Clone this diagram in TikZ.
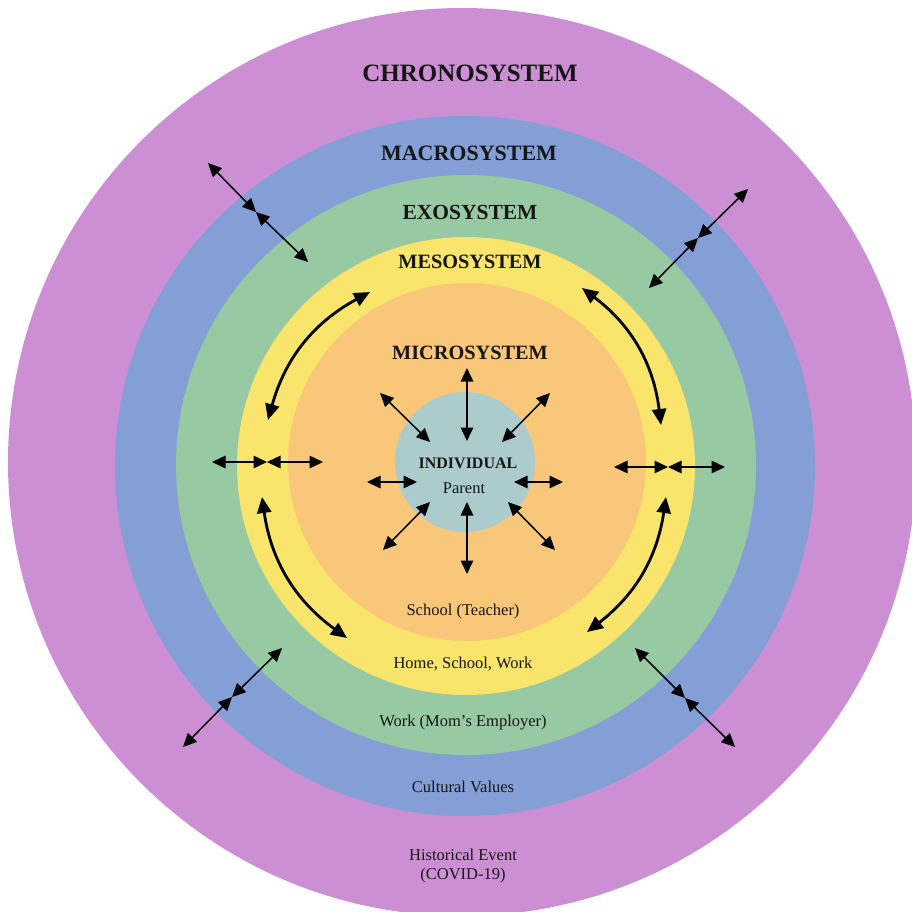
\documentclass[tikz,border=0pt]{standalone}
\usepackage{fontspec}
\setmainfont{Liberation Serif}
\usetikzlibrary{arrows.meta}
\definecolor{chronoC}{RGB}{204,143,212}
\definecolor{macroC}{RGB}{131,159,214}
\definecolor{exoC}{RGB}{151,201,162}
\definecolor{mesoC}{RGB}{249,228,108}
\definecolor{microC}{RGB}{249,199,122}
\definecolor{indC}{RGB}{171,203,205}
\definecolor{txt}{RGB}{22,22,22}
\begin{document}
\begin{tikzpicture}[x=1pt,y=1pt,
  ring/.style={circle, inner sep=0pt, draw=none},
  title/.style={font=\bfseries\fontsize{#1}{#1}\selectfont, text=txt, inner sep=0pt},
  lbl/.style={font=\fontsize{16.5}{19}\selectfont, text=txt, align=center, inner sep=0pt},
  spoke/.style={line width=1.5pt, {Triangle[length=13.5pt,width=12.5pt]}-{Triangle[length=13.5pt,width=12.5pt]}},
  link/.style={line width=1.5pt, {Triangle[length=13.5pt,width=12.5pt]}-{Triangle[length=13.5pt,width=12.5pt]}},
  curv/.style={line width=2.8pt, {Triangle[length=16pt,width=14pt]}-{Triangle[length=16pt,width=14pt]}},
]
\useasboundingbox (0,0) rectangle (912,-911);
\clip (0,0) rectangle (912,-911);
\fill[white] (0,0) rectangle (912,-911);

% rings
\node[ring, fill=chronoC, minimum size=908pt] (chrono) at (462,-462) {};
\node[ring, fill=macroC, minimum size=700pt] (macro) at (465,-466) {};
\node[ring, fill=exoC, minimum size=580pt] (exo) at (466,-465) {};
\node[ring, fill=mesoC, minimum size=458pt] (meso) at (466,-466) {};
\node[ring, fill=microC, minimum size=358pt] (micro) at (467,-462) {};
\node[ring, fill=indC, minimum size=140pt] (ind) at (465,-462) {};

% titles
\node[title=25] (tchrono) at (470,-73) {CHRONOSYSTEM};
\node[title=22] (tmacro) at (469,-153) {MACROSYSTEM};
\node[title=21.5] (texo) at (470,-212) {EXOSYSTEM};
\node[title=20.3] (tmeso) at (470,-262) {MESOSYSTEM};
\node[title=20.3] (tmicro) at (470,-353) {MICROSYSTEM};
\node[title=16] (tind) at (468,-463) {INDIVIDUAL};

% labels
\node[lbl] (lpar) at (464,-488) {Parent};
\node[lbl] (lschool) at (463,-612) {School (Teacher)};
\node[lbl] (lhome) at (463,-664) {Home, School, Work};
\node[lbl] (lwork) at (463,-723) {Work (Mom’s Employer)};
\node[lbl] (lcult) at (463,-787) {Cultural Values};
\node[lbl] (lhist) at (463,-866) {Historical Event\\(COVID-19)};

% spoke coordinates
\coordinate (nIn) at (467,-441); \coordinate (nOut) at (467,-368);
\coordinate (sIn) at (467,-502); \coordinate (sOut) at (467,-574);
\coordinate (wIn) at (417,-482); \coordinate (wOut) at (367,-482);
\coordinate (eIn) at (514,-482); \coordinate (eOut) at (563,-482);
\coordinate (nwIn) at (430,-442); \coordinate (nwOut) at (380,-393);
\coordinate (neIn) at (502,-442); \coordinate (neOut) at (550,-393);
\coordinate (swIn) at (430,-502); \coordinate (swOut) at (383,-550);
\coordinate (seIn) at (508,-502); \coordinate (seOut) at (555,-550);
\foreach \d in {n,s,w,e,nw,ne,sw,se}{\draw[spoke] (\d In) -- (\d Out);}

% curved mesosystem arrows
\coordinate (ulA) at (370,-292); \coordinate (ulB) at (268,-420);
\coordinate (urA) at (582,-288); \coordinate (urB) at (661,-425);
\coordinate (llA) at (262,-497); \coordinate (llB) at (347,-638);
\coordinate (lrA) at (666,-497); \coordinate (lrB) at (587,-632);
\draw[curv] (ulA) to[bend right=23] (ulB);
\draw[curv] (urA) to[bend left=23] (urB);
\draw[curv] (llA) to[bend right=23] (llB);
\draw[curv] (lrA) to[bend left=22] (lrB);

% outer double arrows
\coordinate (o1) at (208,-163); \coordinate (m1) at (256,-212); \coordinate (i1) at (308,-262);
\coordinate (o2) at (748,-189); \coordinate (m2) at (698,-238); \coordinate (i2) at (649,-288);
\coordinate (o3) at (212,-462); \coordinate (m3) at (267,-462); \coordinate (i3) at (323,-462);
\coordinate (o4) at (725,-467); \coordinate (m4) at (668,-467); \coordinate (i4) at (614,-467);
\coordinate (o5) at (183,-747); \coordinate (m5) at (232,-697); \coordinate (i5) at (282,-648);
\coordinate (o6) at (735,-747); \coordinate (m6) at (685,-698); \coordinate (i6) at (635,-648);
\foreach \k in {1,...,6}{
  \draw[link] (o\k) -- (m\k);
  \draw[link] (m\k) -- (i\k);
}
\end{tikzpicture}
\end{document}
